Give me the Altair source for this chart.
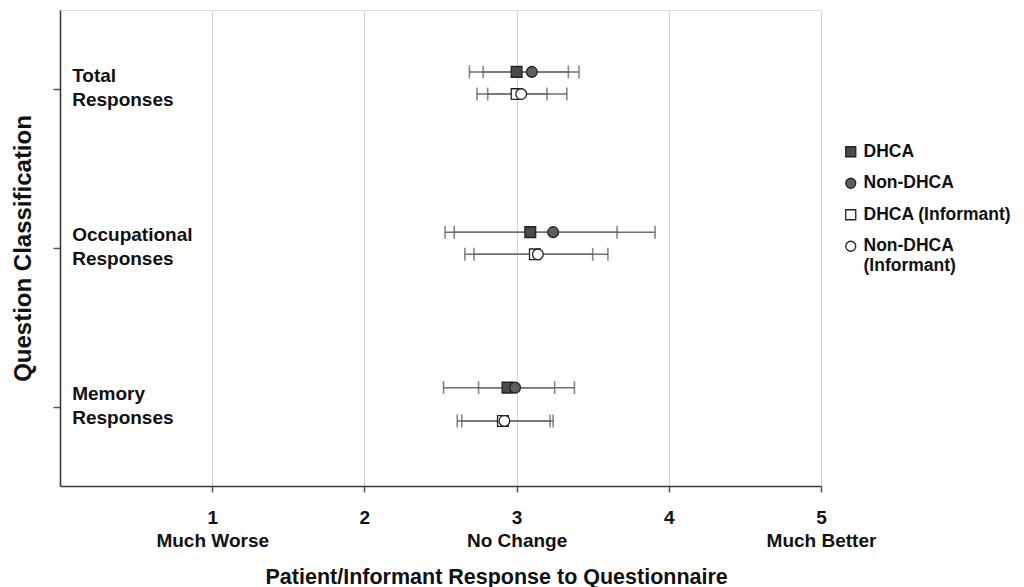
import altair as alt
import pandas as pd

FONT = "Liberation Sans"

# ---- data ----
categories = ["Total Responses", "Occupational Responses", "Memory Responses"]
category_lines = [["Total", "Responses"], ["Occupational", "Responses"], ["Memory", "Responses"]]
category_y = [2.5, 1.5, 0.5]
series = ["DHCA", "Non-DHCA", "DHCA (Informant)", "Non-DHCA (Informant)"]

# y position of each row (patient rows above the tick, informant rows below)
patient_row_y = [2.61, 1.60, 0.62]
informant_row_y = [2.47, 1.46, 0.41]

# means per category, order of `series`
mean_total = [3.00, 3.10, 3.00, 3.03]
mean_occup = [3.09, 3.24, 3.12, 3.14]
mean_memory = [2.94, 2.99, 2.91, 2.92]

low_total = [2.69, 2.78, 2.81, 2.74]
low_occup = [2.53, 2.59, 2.66, 2.72]
low_memory = [2.52, 2.75, 2.61, 2.64]

high_total = [3.34, 3.41, 3.20, 3.33]
high_occup = [3.66, 3.91, 3.60, 3.50]
high_memory = [3.38, 3.25, 3.22, 3.24]

x_tick_values = [1, 2, 3, 4, 5]
x_tick_words = ["Much Worse", "", "No Change", "", "Much Better"]

x_title = "Patient/Informant Response to Questionnaire"
y_title = "Question Classification"

# ---- build table ----
means = [mean_total, mean_occup, mean_memory]
lows = [low_total, low_occup, low_memory]
highs = [high_total, high_occup, high_memory]
rows = []
for ci, cat in enumerate(categories):
    for si, s in enumerate(series):
        ypos = patient_row_y[ci] if "Informant" not in s else informant_row_y[ci]
        rows.append(dict(category=cat, series=s, mean=means[ci][si],
                         lo=lows[ci][si], hi=highs[ci][si], ypos=ypos))
df = pd.DataFrame(rows)
caps = pd.concat([
    df[["series", "ypos", "lo"]].rename(columns={"lo": "cap"}),
    df[["series", "ypos", "hi"]].rename(columns={"hi": "cap"}),
])
labels_df = pd.DataFrame({"lines": category_lines, "y": category_y, "x": [0.08] * 3})

# label expression for x axis (two lines)
word_expr = "''"
for v, w in reversed(list(zip(x_tick_values, x_tick_words))):
    word_expr = f"datum.value == {v} ? '{w}' : ({word_expr})"
x_label_expr = f"[datum.label, {word_expr}]"

legend_label_expr = "datum.label == 'Non-DHCA (Informant)' ? ['Non-DHCA', '(Informant)'] : datum.label"

x_scale = alt.Scale(domain=[0, 5], nice=False, zero=False)
y_scale = alt.Scale(domain=[0, 3], nice=False, zero=False)

x_axis = alt.Axis(values=x_tick_values, format="d", labelExpr=x_label_expr, grid=True,
                  gridColor="#d4d4d4", gridWidth=1.2, domainColor="#3a3a3a", domainWidth=1.6,
                  tickColor="#555", tickSize=6, tickWidth=1.5, labelFont=FONT,
                  labelFontSize=19, labelFontWeight="bold", labelColor="#111",
                  labelPadding=16, labelLineHeight=23, labelFlush=False,
                  labelOverlap=False, labelBound=False, title=x_title,
                  titleFont=FONT, titleFontSize=21.5, titleFontWeight="bold",
                  titleColor="#111", titleAlign="left", titleAnchor="start",
                  titleX=205, titleY=91, titleBaseline="middle")
y_axis = alt.Axis(values=category_y, labels=False, grid=False, domainColor="#3a3a3a",
                  domainWidth=1.6, tickColor="#555", tickSize=7, tickWidth=1.5,
                  title=y_title, titleFont=FONT, titleFontSize=24,
                  titleFontWeight="bold", titleColor="#111", titleAngle=270,
                  titleAlign="center", titleBaseline="middle", titleX=-37, titleY=238)

base = alt.Chart(df)

bars = base.mark_rule(color="#707070", strokeWidth=1.5).encode(
    x=alt.X("lo:Q", scale=x_scale, axis=x_axis),
    x2="hi:Q",
    y=alt.Y("ypos:Q", scale=y_scale, axis=y_axis),
)

cap_marks = alt.Chart(caps).mark_tick(orient="vertical", color="#555", size=13, thickness=1.6).encode(
    x=alt.X("cap:Q", scale=x_scale),
    y=alt.Y("ypos:Q", scale=y_scale),
)

legend = alt.Legend(title=None, orient="none", legendX=782, legendY=133,
                    labelFont=FONT, labelFontSize=17.5, labelFontWeight="bold",
                    labelColor="#111", labelExpr=legend_label_expr,
                    symbolSize=100, symbolStrokeWidth=1.3, rowPadding=12.5,
                    labelOffset=4, labelLimit=300)

points = base.mark_point(size=115, stroke="#222", strokeWidth=1.3, opacity=1).encode(
    x=alt.X("mean:Q", scale=x_scale),
    y=alt.Y("ypos:Q", scale=y_scale),
    shape=alt.Shape("series:N", sort=series,
                    scale=alt.Scale(domain=series, range=["square", "circle", "square", "circle"]),
                    legend=legend),
    fill=alt.Fill("series:N", sort=series,
                  scale=alt.Scale(domain=series, range=["#4a4a4a", "#5e5e5e", "#ffffff", "#ffffff"]),
                  legend=legend),
)

cat_labels = alt.Chart(labels_df).mark_text(
    align="left", baseline="middle", font=FONT, fontSize=19, fontWeight="bold",
    color="#111", lineHeight=24, dy=-13,
).encode(
    x=alt.X("x:Q", scale=x_scale),
    y=alt.Y("y:Q", scale=y_scale),
    text="lines",
)

chart = alt.layer(bars, cap_marks, points, cat_labels).properties(
    width=761, height=476,
    padding={"left": 60, "top": 10, "right": 203, "bottom": 101},
    autosize=alt.AutoSizeParams(type="none"),
).configure_view(stroke=None).configure(font=FONT)

chart.save("out.html", embed_options={"renderer": "svg", "actions": False})
